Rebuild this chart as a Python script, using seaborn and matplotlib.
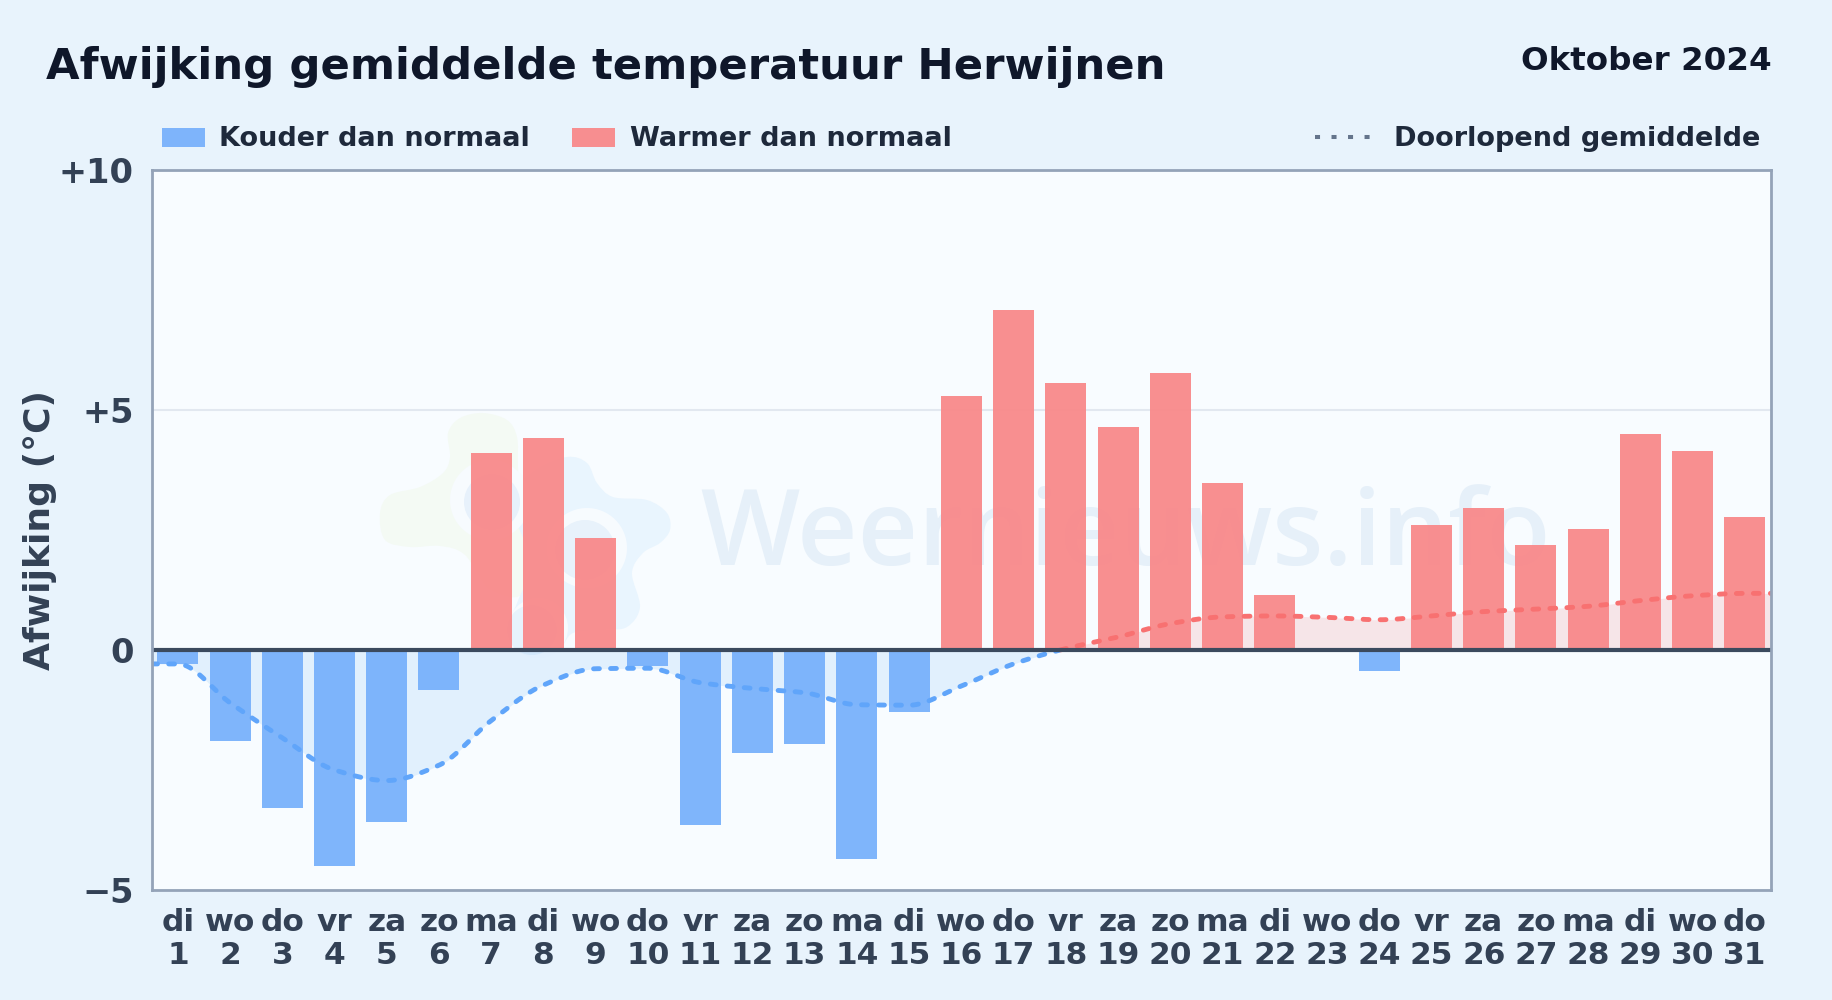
import numpy as np
import pandas as pd
import matplotlib
matplotlib.use("Agg")
import matplotlib.pyplot as plt
import seaborn as sns
from matplotlib.patches import Patch, PathPatch, Circle
from matplotlib.path import Path
from matplotlib.lines import Line2D
from matplotlib.transforms import Affine2D

# ---- data ----
weekdays = ["di","wo","do","vr","za","zo","ma","di","wo","do","vr","za","zo","ma","di","wo",
            "do","vr","za","zo","ma","di","wo","do","vr","za","zo","ma","di","wo","do"]
days = list(range(1, 32))
anomaly = [-0.29,-1.89,-3.30,-4.51,-3.58,-0.83,4.10,4.42,2.33,-0.33,-3.65,-2.14,-1.95,-4.35,-1.29,
           5.29,7.08,5.57,4.65,5.77,3.48,1.15,0.0,-0.44,2.60,2.96,2.19,2.52,4.50,4.14,2.77]
running = [-0.29,-1.10,-1.83,-2.50,-2.72,-2.40,-1.47,-0.73,-0.39,-0.38,-0.68,-0.80,-0.89,-1.14,-1.15,
           -0.75,-0.29,0.03,0.27,0.55,0.69,0.71,0.68,0.63,0.71,0.80,0.85,0.91,1.03,1.13,1.18]
y_ticks = [-5, 0, 5, 10]
y_labels = ["\u22125", "0", "+5", "+10"]

BLUE = "#76B0FB"; RED = "#F98788"
LINE_BLUE = "#60A5FA"; LINE_RED = "#F87171"
W, H = 1832, 1000
BG = "#E8F3FC"; AXBG = "#F8FCFF"; INK = "#334155"

sns.set_theme(style="white")
plt.rcParams["font.family"] = ["DejaVu Sans"]
fig = plt.figure(figsize=(W/100, H/100), dpi=100, facecolor=BG)
ax = fig.add_axes([151.7/W, 1-890/H, (1771-151.7)/W, 720/H], facecolor=AXBG)

df = pd.DataFrame({"i": range(31), "v": anomaly})
df["kind"] = np.where(df.v < 0, "koud", "warm")

# watermark logo (reference-pixel coordinates)
px = Affine2D().scale(1/W, -1/H).translate(0, 1) + fig.transFigure
def blob(pts, color, z=0.5):
    p = np.array(pts, float); n = len(p)
    verts = [p[0]]; codes = [Path.MOVETO]
    for i in range(n):
        a, b, c, d = p[i-1], p[i], p[(i+1) % n], p[(i+2) % n]
        verts += [b + (c-a)/6, c - (d-b)/6, c]; codes += [Path.CURVE4]*3
    ax.add_patch(PathPatch(Path(verts, codes), fc=color, ec="none", transform=px, zorder=z))
blob([(448,433),(460,418),(483,413),(507,420),(517,437),(518,467),(520,510),(525,590),(490,590),
      (465,555),(440,546),(410,547),(385,540),(380,513),(390,495),(420,487),(443,473),(450,457)], "#F4FAF4")
blob([(535,470),(567,457),(587,463),(597,483),(613,497),(647,500),(667,513),(670,530),(660,543),
      (643,553),(632,573),(640,607),(627,627),(603,630),(573,633),(560,648),(537,655),(513,643),
      (508,623),(517,603),(530,560),(510,500)], "#E9F5FE")
def disc(c, r, color, z):
    ax.add_patch(Circle(c, r, fc=color, ec="none", transform=px, zorder=z))
disc((490, 500), 40, "#F7FBFE", 0.52); disc((492, 502), 28, "#E7F1FB", 0.53)
disc((587, 548), 40, "#F7FBFE", 0.52); disc((585, 550), 30, "#E8F2FB", 0.53)
disc((538, 628), 30, "#F7FBFE", 0.52); disc((532, 630), 25, "#E7F3FC", 0.53)
ax.text(1126/W, 1-538/H, "Weernieuws.info", transform=fig.transFigure, ha="center", va="center",
        fontsize=75.6, family="Open Sans", fontweight="semibold", color="#E6F0F9", zorder=0.6)

# running-mean curve, cubic Hermite through the read values
xs = np.array([-0.5] + list(range(31)) + [30.5], float)
ys = np.array([running[0]] + running + [running[-1]], float)
def monotone(x, y, n=40):
    d = np.diff(y)/np.diff(x); m = np.zeros_like(y)
    for i in range(1, len(y)-1):
        m[i] = 0 if d[i-1]*d[i] <= 0 else 2*d[i-1]*d[i]/(d[i-1]+d[i])
    X, Y = [], []
    for i in range(len(x)-1):
        h = x[i+1]-x[i]; t = np.linspace(0, 1, n, endpoint=False)
        X.append(x[i]+t*h)
        Y.append((2*t**3-3*t**2+1)*y[i]+(t**3-2*t**2+t)*h*m[i]+(-2*t**3+3*t**2)*y[i+1]+(t**3-t**2)*h*m[i+1])
    return np.r_[np.concatenate(X), x[-1]], np.r_[np.concatenate(Y), y[-1]]
cx, cy = monotone(xs, ys)
ax.fill_between(cx, 0, cy, where=cy <= 0, color="#3B9AF6", alpha=0.12, lw=0, interpolate=True, zorder=1)
ax.fill_between(cx, 0, cy, where=cy >= 0, color="#EF4444", alpha=0.12, lw=0, interpolate=True, zorder=1)

sns.barplot(data=df, x="i", y="v", hue="kind", palette={"koud": BLUE, "warm": RED}, hue_order=["koud", "warm"],
            dodge=False, width=0.785, alpha=0.93, legend=False, ax=ax, zorder=2, errorbar=None, saturation=1,
            linewidth=0, edgecolor="none")

dash = (0, (1.2, 2.3))
for mask, col in ((cy <= 0, LINE_BLUE), (cy >= 0, LINE_RED)):
    ax.plot(np.where(mask, cx, np.nan), cy, color=col, lw=3.5, ls=dash, dash_capstyle="round", zorder=3)

ax.axhline(5, color="#E2E8F0", lw=1.5, zorder=0.8)
ax.axhline(0, color="#3B4A5E", lw=3, zorder=4)
ax.set_xlim(-0.5, 30.5); ax.set_ylim(-5, 10)
ax.set_yticks(y_ticks, y_labels)
ax.set_xticks(range(31), [f"{w}\n{d}" for w, d in zip(weekdays, days)])
ax.tick_params(axis="x", length=0, labelsize=22.5, labelcolor=INK, pad=13)
ax.tick_params(axis="y", length=0, labelsize=24.2, labelcolor=INK, pad=13)
for t in ax.get_xticklabels() + ax.get_yticklabels():
    t.set_fontweight("bold"); t.set_linespacing(1.18)
ax.set_xlabel("")
ax.set_ylabel("")
fig.text(40.5/W, 1-530/H, "Afwijking (\u00b0C)", rotation=90, ha="center", va="center",
         fontsize=26, fontweight="bold", color=INK)
for s in ax.spines.values():
    s.set_visible(True); s.set_color("#94A3B8"); s.set_linewidth(2); s.set_zorder(5)

fig.text(46/W, 1-67/H, "Afwijking gemiddelde temperatuur Herwijnen", ha="left", va="center",
         fontsize=31.2, fontweight="bold", color="#0F172A")
fig.text(1771.5/W, 1-62/H, "Oktober 2024", ha="right", va="center", fontsize=23.4, fontweight="bold", color="#0F172A")

leg_kw = dict(frameon=False, labelcolor="#1E293B", prop={"weight": "bold", "size": 19.5},
              borderaxespad=0, borderpad=0)
fig.legend(handles=[Patch(facecolor=BLUE, alpha=0.93, lw=0, label="Kouder dan normaal"),
                    Patch(facecolor=RED, alpha=0.93, lw=0, label="Warmer dan normaal")],
           loc="center left", bbox_to_anchor=(162/W, 1-139.5/H), ncol=2, handlelength=1.6, handleheight=0.7,
           columnspacing=1.55, handletextpad=0.52, **leg_kw)
fig.legend(handles=[Line2D([], [], color="#64748B", lw=2.9, ls=(0, (1.25, 2.85)), dash_capstyle="butt",
                           label="Doorlopend gemiddelde")],
           loc="center right", bbox_to_anchor=(1760/W, 1-139.5/H), handlelength=2.18, handletextpad=0.74, **leg_kw)
fig.savefig("out.png", dpi=100, facecolor=BG)
